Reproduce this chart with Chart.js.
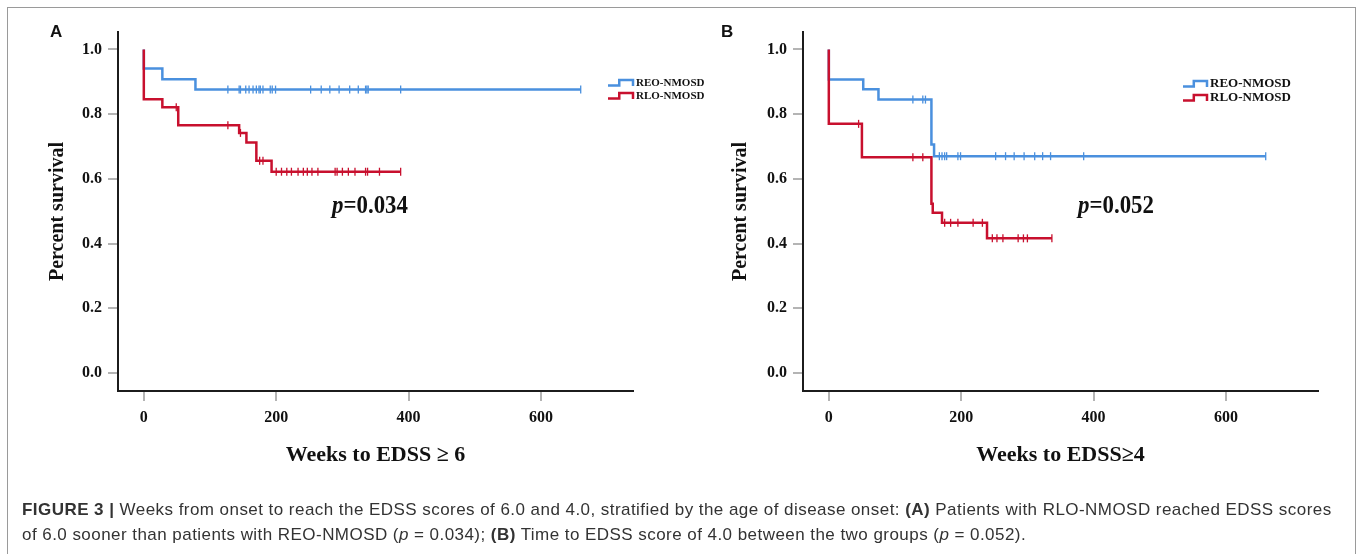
<!DOCTYPE html>
<html>
<head>
<meta charset="utf-8">
<script src="https://cdn.jsdelivr.net/npm/chart.js@4.4.1/dist/chart.umd.min.js"></script>
<style>
  html, body { margin: 0; padding: 0; background: #fff; width: 1357px; height: 554px; overflow: hidden; }
  .frame { position: absolute; left: 7px; top: 7px; width: 1347px; height: 600px; border: 1px solid #9a9a9a; }
  canvas { position: absolute; top: 0; }
  #chartA { left: 0; }
  #chartB { left: 685px; }
  .letter { position: absolute; top: 22px; font: bold 17px "Liberation Sans", Arial, sans-serif; line-height: 20px; color: #111; }
  .pval { position: absolute; top: 192px; font: bold 26px "Liberation Serif", serif; line-height: 26px; color: #111;
          transform: scaleX(0.88); transform-origin: left center; white-space: nowrap; }
  .caption { position: absolute; left: 22px; top: 497px; font: 17px "Liberation Sans", Arial, sans-serif; line-height: 25px;
             letter-spacing: 0.45px; color: #333; white-space: nowrap; z-index: 2; }
</style>
</head>
<body>
<div class="frame"></div>
<canvas id="chartA" width="715" height="500"></canvas>
<canvas id="chartB" width="672" height="500"></canvas>
<div class="letter" style="left:50px">A</div>
<div class="letter" style="left:721px">B</div>
<div class="pval" style="left:332px"><i>p</i>=0.034</div>
<div class="pval" style="left:1078px"><i>p</i>=0.052</div>
<div class="caption"><b>FIGURE 3 |</b> Weeks from onset to reach the EDSS scores of 6.0 and 4.0, stratified by the age of disease onset: <b>(A)</b> Patients with RLO-NMOSD reached EDSS scores<br>of 6.0 sooner than patients with REO-NMOSD (<i>p</i> = 0.034); <b>(B)</b> Time to EDSS score of 4.0 between the two groups (<i>p</i> = 0.052).</div>
<script>
// ticks and names
const weekTicks = [0, 200, 400, 600];
const survivalTicks = [0, 0.2, 0.4, 0.6, 0.8, 1.0];
const groupNames = ['REO-NMOSD', 'RLO-NMOSD'];

// panel A: weeks to EDSS >= 6
const aReoEvents = [0, 28, 78];
const aReoSurvival = [0.941, 0.908, 0.876];
const aReoCensored = [127, 144, 146, 154, 159, 165, 170, 174, 176, 180, 191, 194, 199, 252, 268, 281, 295, 311, 324, 335, 337, 339, 388, 660];
const aRloEvents = [0, 28, 52, 144, 155, 170, 193];
const aRloSurvival = [0.846, 0.821, 0.766, 0.742, 0.712, 0.656, 0.622];
const aRloCensored = [49, 127, 146, 175, 180, 200, 208, 216, 223, 233, 241, 247, 254, 263, 289, 292, 300, 309, 319, 335, 338, 356, 388];

// panel B: weeks to EDSS >= 4
const bReoEvents = [0, 52, 75, 155, 159];
const bReoSurvival = [0.907, 0.877, 0.845, 0.706, 0.670];
const bReoCensored = [127, 142, 146, 167, 171, 175, 178, 195, 199, 252, 267, 280, 295, 311, 323, 335, 385, 660];
const bRloEvents = [0, 50, 155, 157, 171, 239];
const bRloSurvival = [0.770, 0.667, 0.523, 0.495, 0.464, 0.416];
const bRloCensored = [45, 127, 142, 175, 184, 195, 218, 232, 247, 254, 263, 286, 294, 300, 337];

const blue = 'rgb(74,144,222)';
const red = 'rgb(200,16,46)';
const serif = '"Liberation Serif", "Times New Roman", serif';

function stepPoints(events, surv, censored) {
  const pts = [{x: 0, y: 1}];
  events.forEach((w, i) => pts.push({x: w, y: surv[i]}));
  const end = Math.max(events[events.length - 1], censored[censored.length - 1]);
  pts.push({x: end, y: surv[surv.length - 1]});
  return pts;
}

function censorPoints(events, surv, censored) {
  return censored.map(w => {
    let s = 1;
    events.forEach((e, i) => { if (e <= w) s = surv[i]; });
    return {x: w, y: s};
  });
}

// step-shaped legend drawn inside the plot
const kmLegend = {
  id: 'kmLegend',
  afterDraw(chart, args, opts) {
    const ctx = chart.ctx;
    ctx.save();
    chart.data.datasets.filter(d => d.curve).forEach((d, i) => {
      const yc = opts.y + i * opts.gap;
      const x0 = opts.x, w = opts.w;
      ctx.strokeStyle = d.borderColor;
      ctx.lineWidth = 2.5;
      ctx.beginPath();
      ctx.moveTo(x0, yc + 3);
      ctx.lineTo(x0 + w * 0.45, yc + 3);
      ctx.lineTo(x0 + w * 0.45, yc - 2.5);
      ctx.lineTo(x0 + w, yc - 2.5);
      ctx.lineTo(x0 + w, yc + 3.5);
      ctx.stroke();
      ctx.fillStyle = '#111';
      ctx.font = 'bold ' + opts.size + 'px ' + serif;
      ctx.textBaseline = 'middle';
      ctx.fillText(d.label, x0 + w + 3, yc + 0.5);
    });
    ctx.restore();
  }
};

function makePanel(id, groups, opt) {
  const datasets = [];
  groups.forEach((g, i) => {
    datasets.push({
      label: g.name, curve: true,
      data: stepPoints(g.events, g.surv, g.censored),
      showLine: true, stepped: 'before',
      borderColor: g.color, borderWidth: 2.5,
      pointRadius: 0, order: groups.length - i
    });
    datasets.push({
      label: g.name + ' censored',
      data: censorPoints(g.events, g.surv, g.censored),
      showLine: false, pointStyle: 'line', rotation: 90,
      pointRadius: 4, borderColor: g.color, borderWidth: 1.3,
      order: groups.length - i
    });
  });

  new Chart(document.getElementById(id), {
    type: 'scatter',
    data: { datasets },
    plugins: [kmLegend],
    options: {
      responsive: false,
      animation: false,
      layout: { padding: { left: 0, top: 32, right: opt.padRight, bottom: 0 } },
      plugins: {
        legend: { display: false },
        tooltip: { enabled: false },
        kmLegend: opt.legend
      },
      scales: {
        x: {
          type: 'linear', min: -39, max: 739,
          afterBuildTicks: s => { s.ticks = weekTicks.map(v => ({value: v})); },
          afterFit: s => { s.height = 109; },
          grid: { drawOnChartArea: false, drawTicks: true, tickLength: 10, color: '#b4b4b4', lineWidth: 2 },
          border: { display: true, color: '#1c1c1c', width: 2 },
          ticks: { color: '#111', padding: 7, font: { family: serif, size: 16, weight: 'bold' } },
          title: { display: true, text: opt.xTitle, color: '#111', padding: { bottom: 31 },
                   font: { family: serif, size: 22, weight: 'bold' } }
        },
        y: {
          type: 'linear', min: -0.056, max: 1.054,
          afterBuildTicks: s => { s.ticks = survivalTicks.map(v => ({value: v})); },
          afterFit: s => { s.width = 118; },
          grid: { drawOnChartArea: false, drawTicks: true, tickLength: 10, color: '#b4b4b4', lineWidth: 2 },
          border: { display: true, color: '#1c1c1c', width: 2 },
          ticks: { color: '#111', padding: 6, callback: v => v.toFixed(1),
                   font: { family: serif, size: 16, weight: 'bold' } },
          title: { display: true, text: 'Percent survival', color: '#111', padding: { top: opt.yTitlePad },
                   font: { family: serif, size: 20, weight: 'bold' } }
        }
      }
    }
  });
}

makePanel('chartA', [
  { name: groupNames[0], color: blue, events: aReoEvents, surv: aReoSurvival, censored: aReoCensored },
  { name: groupNames[1], color: red, events: aRloEvents, surv: aRloSurvival, censored: aRloCensored }
], { padRight: 82, xTitle: 'Weeks to EDSS \u2265 6', yTitlePad: 46,
     legend: { x: 608, y: 82.5, gap: 13, w: 25, size: 11 } });

makePanel('chartB', [
  { name: groupNames[0], color: blue, events: bReoEvents, surv: bReoSurvival, censored: bReoCensored },
  { name: groupNames[1], color: red, events: bRloEvents, surv: bRloSurvival, censored: bRloCensored }
], { padRight: 39, xTitle: 'Weeks to EDSS\u22654', yTitlePad: 44,
     legend: { x: 498, y: 83.5, gap: 14, w: 24, size: 13 } });
</script>
</body>
</html>
